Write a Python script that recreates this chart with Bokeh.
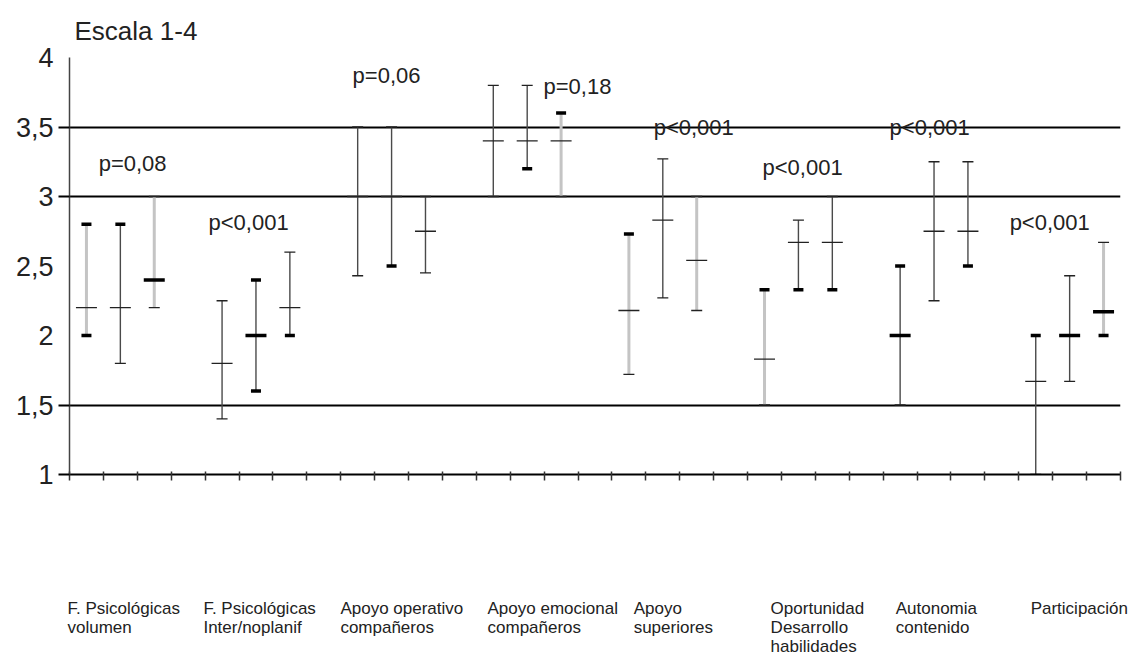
from bokeh.plotting import figure
from bokeh.models import Range1d, FixedTicker, Label, ColumnDataSource
from bokeh.core.properties import value
from bokeh.embed import file_html
from bokeh.resources import INLINE

# ---------------- data ----------------
categories = [
    ["F. Psicológicas", "volumen"],
    ["F. Psicológicas", "Inter/noplanif"],
    ["Apoyo operativo", "compañeros"],
    ["Apoyo emocional", "compañeros"],
    ["Apoyo", "superiores"],
    ["Oportunidad", "Desarrollo", "habilidades"],
    ["Autonomia", "contenido"],
    ["Participación"],
]
p_values = ["p=0,08", "p<0,001", "p=0,06", "p=0,18", "p<0,001", "p<0,001", "p<0,001", "p<0,001"]

s1_max = [2.8, 2.25, 3.5, 3.8, 2.73, 2.33, 2.5, 2.0]
s1_med = [2.2, 1.8, 3.0, 3.4, 2.18, 1.83, 2.0, 1.67]
s1_min = [2.0, 1.4, 2.43, 3.0, 1.72, 1.5, 1.5, 1.0]

s2_max = [2.8, 2.4, 3.5, 3.8, 3.27, 2.83, 3.25, 2.43]
s2_med = [2.2, 2.0, 3.0, 3.4, 2.83, 2.67, 2.75, 2.0]
s2_min = [1.8, 1.6, 2.5, 3.2, 2.27, 2.33, 2.25, 1.67]

s3_max = [3.0, 2.6, 3.0, 3.6, 3.0, 3.0, 3.25, 2.67]
s3_med = [2.4, 2.2, 2.75, 3.4, 2.54, 2.67, 2.75, 2.17]
s3_min = [2.2, 2.0, 2.45, 3.0, 2.18, 2.33, 2.5, 2.0]

y_ticks = [1, 1.5, 2, 2.5, 3, 3.5, 4]
y_tick_labels = ["1", "1,5", "2", "2,5", "3", "3,5", "4"]

# ---------------- styles (rendering look of the original) ----------------
light_bar = [[True, False, False, False, True, True, False, False],
             [False] * 8,
             [True, False, False, True, True, False, False, True]]
thick_caps = [["101", "000", "000", "000", "100", "100", "110", "100"],
              ["100", "111", "001", "001", "000", "001", "000", "010"],
              ["010", "001", "000", "100", "000", "001", "001", "011"]]
label_shift = [-0.06, -0.05, -0.01, 0.33, 0.64, 0.68, 0.37, 0.35]
pv_pos = [(0.36, 3.24), (3.60, 2.81), (7.85, 3.87), (13.48, 3.79),
          (16.73, 3.50), (19.94, 3.21), (23.69, 3.50), (27.23, 2.81)]

FONT = "Liberation Sans"
W = 1137
H_MAIN = 498
H_CAT = 159
B_LEFT, B_RIGHT = 69, 17
X0, X1 = -0.5, 30.5

p = figure(width=W, height=H_MAIN, x_range=Range1d(X0, X1), y_range=Range1d(1, 4),
           output_backend="svg", toolbar_location=None,
           min_border_left=B_LEFT, min_border_right=B_RIGHT, min_border_top=57, min_border_bottom=24)
p.outline_line_color = None
p.background_fill_color = "white"
p.border_fill_color = "white"

# title
p.title.text = "Escala 1-4"
p.title.text_font = FONT
p.title.text_font_size = "26px"
p.title.text_font_style = "normal"
p.title.text_color = "#222222"
p.title.align = "left"
p.title.offset = 5
p.title.standoff = 24

# grid
p.xgrid.visible = False
p.ygrid.ticker = FixedTicker(ticks=[1.5, 3, 3.5])
p.ygrid.grid_line_color = "black"
p.ygrid.grid_line_width = 2

# y axis
p.yaxis.ticker = FixedTicker(ticks=y_ticks, minor_ticks=[1, 1.5, 3, 3.5])
p.yaxis.major_label_overrides = {t: l for t, l in zip(y_ticks, y_tick_labels)}
p.yaxis.major_tick_line_color = None
p.yaxis.major_tick_in = 0
p.yaxis.major_tick_out = 0
p.yaxis.minor_tick_line_color = "black"
p.yaxis.minor_tick_line_width = 2
p.yaxis.minor_tick_in = 0
p.yaxis.minor_tick_out = 11
p.yaxis.axis_line_color = "#444444"
p.yaxis.axis_line_width = 1.5
p.yaxis.major_label_text_font = FONT
p.yaxis.major_label_text_font_size = "27px"
p.yaxis.major_label_text_color = "#222222"
p.yaxis.major_label_standoff = 5

# x axis (ticks at slot boundaries, no labels)
x_tick_pos = [k - 0.5 for k in range(32)]
p.xaxis.ticker = FixedTicker(ticks=x_tick_pos, minor_ticks=[])
p.xaxis.major_label_overrides = {t: "" for t in x_tick_pos}
p.xaxis.major_label_text_font_size = "10px"
p.xaxis.major_label_standoff = 0
p.xaxis.major_tick_in = 3
p.xaxis.major_tick_out = 6
p.xaxis.major_tick_line_color = "#333333"
p.xaxis.major_tick_line_width = 1.5
p.xaxis.axis_line_color = "black"
p.xaxis.axis_line_width = 2

# bars
series = [(s1_max, s1_med, s1_min), (s2_max, s2_med, s2_min), (s3_max, s3_med, s3_min)]
seg = dict(x=[], y0=[], y1=[], color=[], w=[])
cap = dict(x=[], y=[], size=[], lw=[], color=[])
for si, (hi, md, lo) in enumerate(series):
    for g in range(len(categories)):
        x = g * 4 + si
        light = light_bar[si][g]
        seg["x"].append(x)
        seg["y0"].append(lo[g])
        seg["y1"].append(hi[g])
        seg["color"].append("#c4c4c4" if light else "#4a4a4a")
        seg["w"].append(3 if light else 1.4)
        flags = thick_caps[si][g]
        for val, f, base in ((hi[g], flags[0], 11), (md[g], flags[1], 21), (lo[g], flags[2], 11)):
            thick = f == "1"
            cap["x"].append(x)
            cap["y"].append(val)
            cap["size"].append(base - 1 if thick and base == 11 else base)
            cap["lw"].append(3.5 if thick else 1.3)
            cap["color"].append("black" if thick else "#222222")

p.segment(x0="x", x1="x", y0="y0", y1="y1", line_color="color", line_width="w",
          source=ColumnDataSource(seg))
p.scatter(x="x", y="y", marker="dash", size="size", line_width="lw", line_color="color",
          fill_color=None, source=ColumnDataSource(cap))

# p-values
for txt, (px, py) in zip(p_values, pv_pos):
    p.add_layout(Label(x=px, y=py, text=txt, text_font=FONT, text_font_size="22px",
                       text_color="#222222", text_align="left", text_baseline="middle"))

# category labels: separate strip below (own root), same x scale over the full width
ppu = (W - B_LEFT - B_RIGHT) / (X1 - X0)
p2 = figure(width=W, height=H_CAT,
            x_range=Range1d(X0 - B_LEFT / ppu, X1 + B_RIGHT / ppu), y_range=Range1d(H_CAT, 0),
            output_backend="svg", toolbar_location=None,
            min_border_left=0, min_border_right=0, min_border_top=0, min_border_bottom=0)
p2.axis.visible = False
p2.grid.visible = False
p2.outline_line_color = None
cat = dict(x=[], y=[], text=[])
for g, lines in enumerate(categories):
    for li, line in enumerate(lines):
        cat["x"].append(g * 4 - 0.5 + label_shift[g])
        cat["y"].append(110 + li * 19)
        cat["text"].append(line)
p2.text(x="x", y="y", text="text", source=ColumnDataSource(cat), text_font=value(FONT),
        text_font_size="17px", text_color="#222222", text_align="left", text_baseline="middle")

open("out.html", "w").write(file_html([p, p2], INLINE))
